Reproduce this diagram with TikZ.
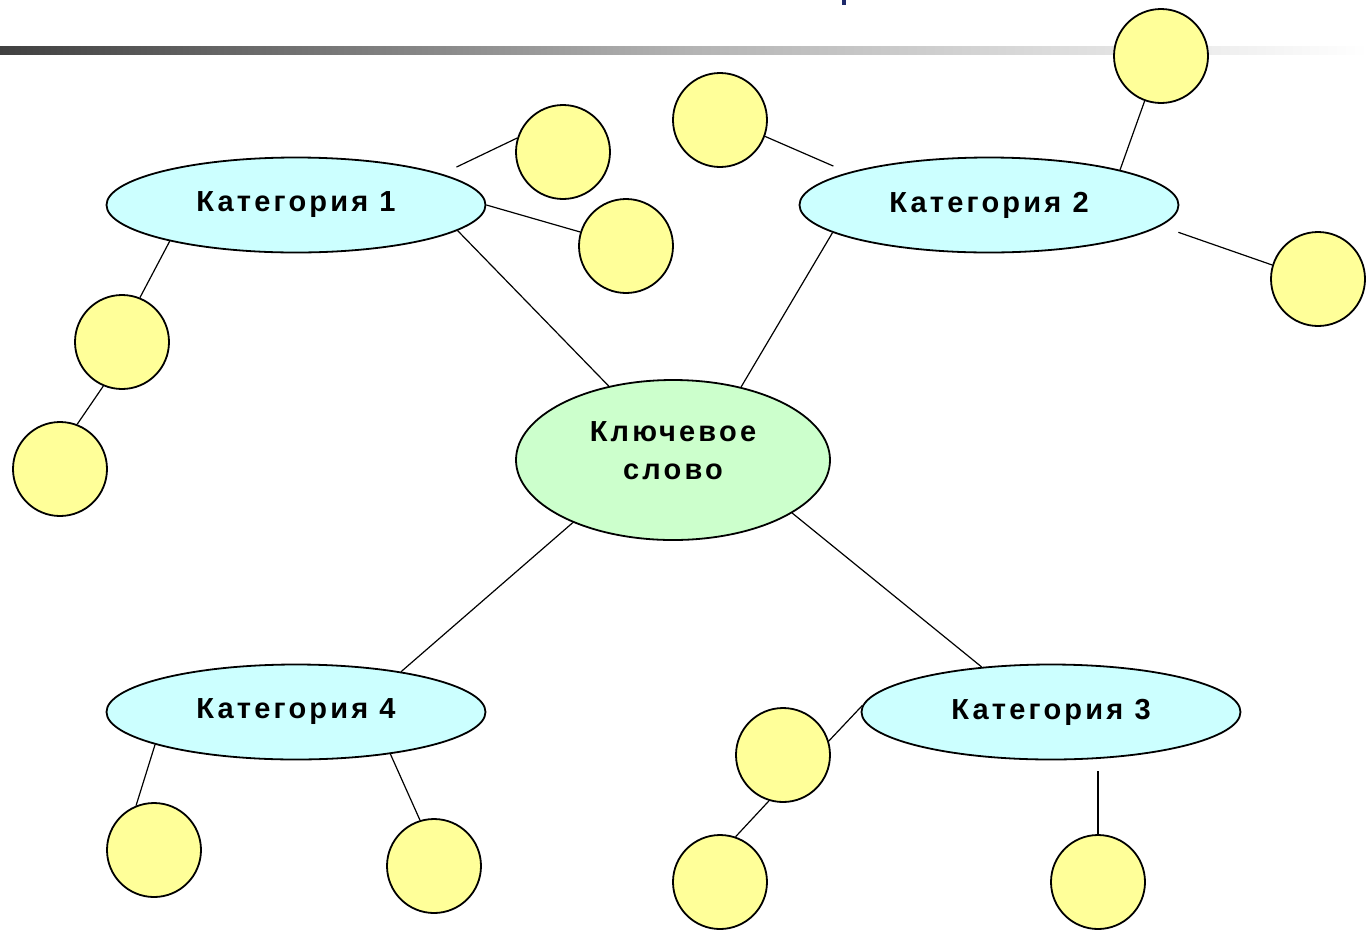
\documentclass[tikz,border=0pt]{standalone}
\usepackage{fontspec}
\setmainfont{Liberation Sans}
\newfontfamily\lab[LetterSpace=11]{Liberation Sans}
\usetikzlibrary{shapes.geometric}
\definecolor{catfill}{HTML}{CCFFFF}
\definecolor{keyfill}{HTML}{CCFFCC}
\definecolor{leaffill}{HTML}{FFFF99}
\definecolor{barleft}{HTML}{404040}
\definecolor{titleblue}{HTML}{1F2A6B}
\tikzset{
  catbox/.style={ellipse, draw=black, line width=1.8pt, fill=catfill,
    minimum width=379pt, minimum height=95pt, inner sep=0pt,
    font=\lab\bfseries\fontsize{29}{34}\selectfont},
  keybox/.style={ellipse, draw=black, line width=1.8pt, fill=keyfill,
    minimum width=314pt, minimum height=160pt, inner sep=0pt, align=center,
    font=\lab\bfseries\fontsize{29}{37}\selectfont},
  leaf/.style={circle, draw=black, line width=1.8pt, fill=leaffill,
    minimum size=94pt, inner sep=0pt},
  link/.style={line width=1.2pt, draw=black}
}
\begin{document}
\begin{tikzpicture}[x=1pt,y=-1pt]
\useasboundingbox (0,0) rectangle (1368,930);
% header bar
\shade[left color=barleft, right color=white, middle color=black!30] (0,46) rectangle (1368,54);
\fill[titleblue] (842,0) rectangle (846,5);
% nodes
\node[keybox] (key) at (673,460) {\raisebox{7pt}[\height][\depth]{\begin{tabular}{@{}c@{}}Ключевое\\[1pt]слово\end{tabular}}};
\node[catbox] (cat1) at (296,205) {Категория 1};
\node[catbox] (cat2) at (989,205) {Категория 2};
\node[catbox] (cat3) at (1051,712) {Категория 3};
\node[catbox] (cat4) at (296,712) {Категория 4};
\node[leaf] (c1a) at (563,152) {};
\node[leaf] (c1b) at (626,246) {};
\node[leaf] (c1c) at (122,342) {};
\node[leaf] (c1d) at (60,469) {};
\node[leaf] (c2a) at (720,120) {};
\node[leaf] (c2b) at (1161,56) {};
\node[leaf] (c2c) at (1318,279) {};
\node[leaf] (c3a) at (783,755) {};
\node[leaf] (c3b) at (720,882) {};
\node[leaf] (c3c) at (1098,882) {};
\node[leaf] (c4a) at (154,850) {};
\node[leaf] (c4b) at (434,866) {};
% connectors
\draw[link, shorten <=16pt] (cat1.12.1) -- (c1a.163);
\draw[link] (cat1.east) -- (c1b.163);
\draw[link] (cat1.-9.6) -- (key.131.2);
\draw[link] (cat1.-164.4) -- (c1c.68.2);
\draw[link] (c1c.247.6) -- (c1d.69.3);
\draw[link, shorten >=16pt] (c2a.-20.6) -- (cat2.167.85);
\draw[link] (cat2.15.8) -- (c2b.250.8);
\draw[link, shorten <=19pt] (cat2.-7) -- (c2c.163.4);
\draw[link] (cat2.190.7) -- (key.47.9);
\draw[link] (key.212.3) -- (cat4.21.8);
\draw[link] (key.-24.5) -- (cat3.147.3);
\draw[link] (cat3.178) -- (c3a.17.7);
\draw[link] (c3a.253.9) -- (c3b.71.2);
\draw[link, shorten <=11pt] (cat3.south -| c3c.north) -- (c3c.north);
\draw[link] (cat4.193.8) -- (c4a.112.9);
\draw[link] (cat4.-24.8) -- (c4b.107.7);
\end{tikzpicture}
\end{document}
